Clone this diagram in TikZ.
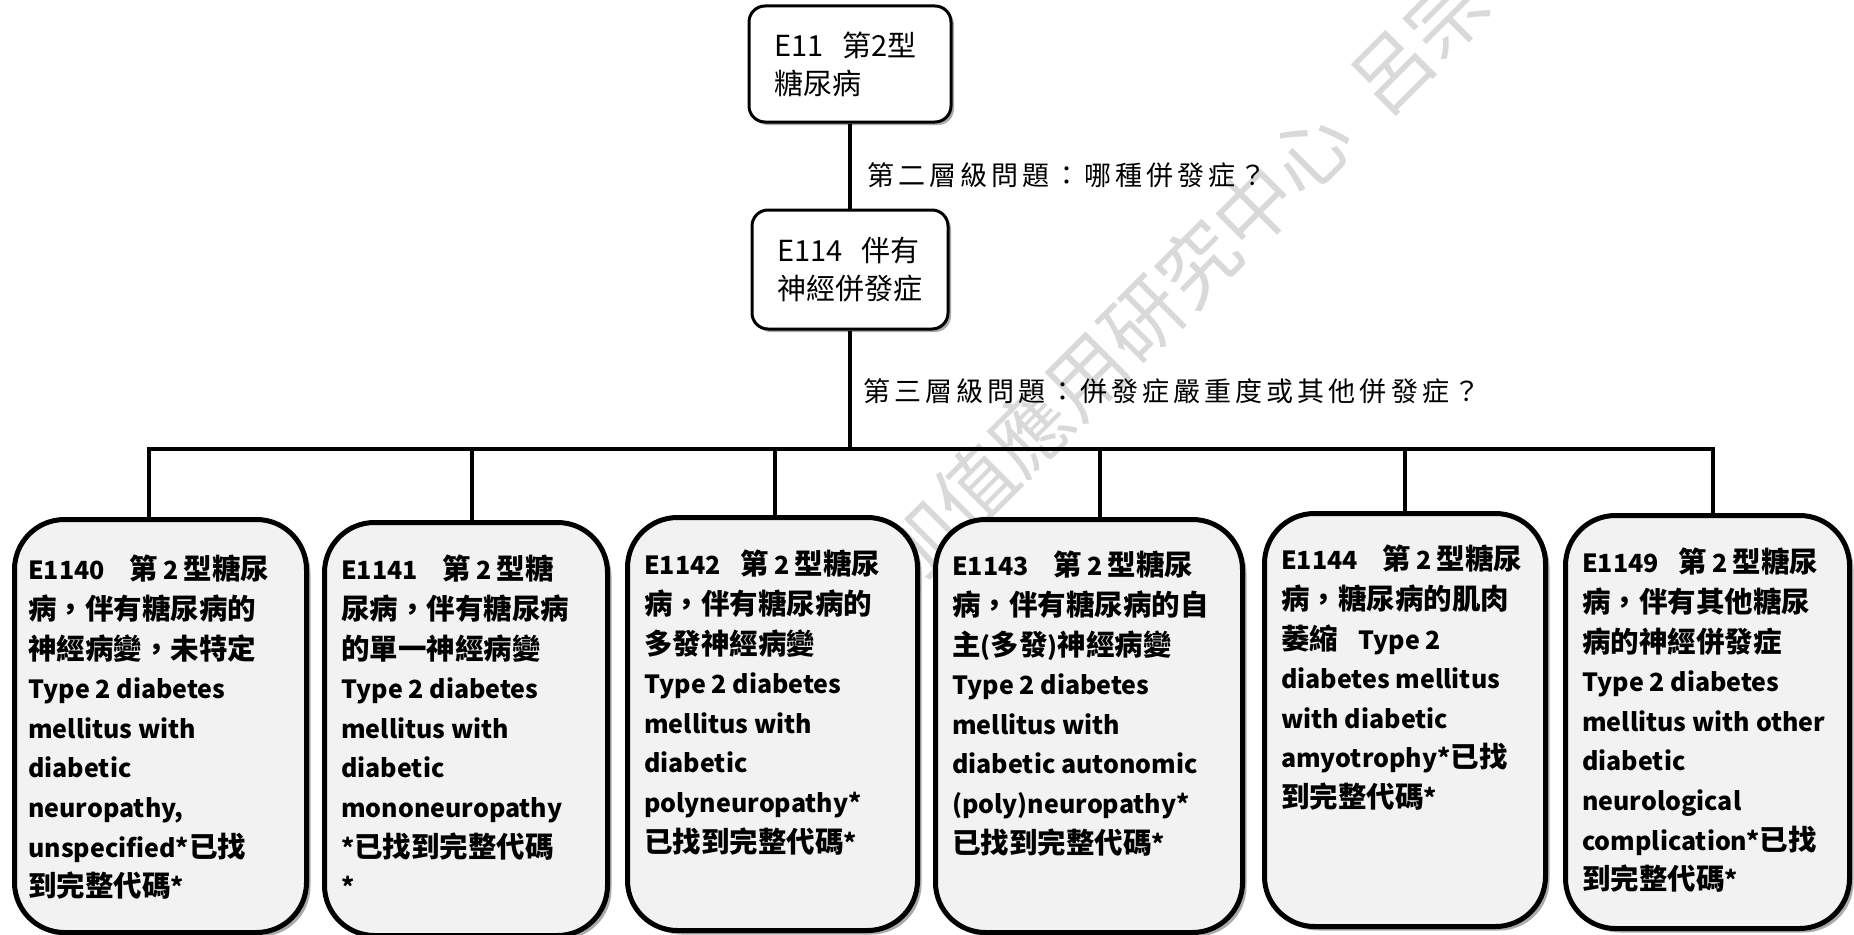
\documentclass[tikz,border=0pt]{standalone}
\usepackage{fontspec}
\setmainfont{Noto Sans CJK TC}
\usetikzlibrary{shadows}
\newcommand\en[1]{{\fontsize{25}{39.6}\selectfont #1}}
\newcommand\hd[4]{\en{#1}\hspace{#2}第\hspace{5pt}\en{2}\hspace{5pt}#3#4}
\tikzset{
  topbox/.style={draw=black, line width=3pt, rounded corners=16pt, fill=white, align=left,
    inner xsep=25pt, inner ysep=0pt, font=\fontsize{29}{38}\selectfont,
    drop shadow={shadow xshift=3pt, shadow yshift=-3pt, opacity=0.6, fill=black!55}},
  leafbox/.style={draw=black, line width=5pt, rounded corners=50pt, fill=black!5, anchor=north west,
    minimum height=413pt, inner sep=0pt,
    drop shadow={shadow xshift=4pt, shadow yshift=-4pt, opacity=0.6, fill=black!55}},
  leaftext/.style={anchor=north west, align=left, inner sep=0pt, font=\fontsize{28.5}{39.6}\selectfont\bfseries},
  conn/.style={line width=4.5pt},
  dropline/.style={line width=3.8pt},
  qlabel/.style={anchor=west, inner sep=0pt, font=\fontsize{27}{30}\selectfont\addfontfeature{LetterSpace=15}},
  wmark/.style={text=black!15, font=\fontsize{79}{80}\selectfont, rotate=45, anchor=base west, inner sep=0pt}
}
\begin{document}
\begin{tikzpicture}[x=1pt,y=-1pt]
\useasboundingbox (0,0) rectangle (1854,934);
\fill[white] (0,0) rectangle (1854,934);

% watermark
\node[wmark] (wm) at (912,592) {加值應用研究中心\hspace{0.45em}呂宗學};

% top boxes
\node[topbox, text width=152pt, minimum height=116pt] (e11) at (850,64) {E11\ \ 第2型\\糖尿病};
\node[topbox, text width=146pt, minimum height=119pt] (e114) at (850,269.5) {E114\ \ 伴有\\神經併發症};

% labels
\node[qlabel] (q2) at (867,175) {第二層級問題：哪種併發症？};
\node[qlabel] (q3) at (863,391) {第三層級問題：併發症嚴重度或其他併發症？};

% leaf boxes
\node[leafbox, minimum width=292pt] (b1) at (12,517) {};
\node[leafbox, minimum width=283pt] (b2) at (322,520) {};
\node[leafbox, minimum width=290pt] (b3) at (625,515) {};
\node[leafbox, minimum width=307pt] (b4) at (933,517) {};
\node[leafbox, minimum width=281pt] (b5) at (1262,511) {};
\node[leafbox, minimum width=284pt] (b6) at (1563,513) {};

\node[leaftext] (t1) at ([xshift=16pt,yshift=-38pt]b1.north west) {\hd{E1140}{25pt}{型糖}{尿}\\病，伴有糖尿病的\\神經病變，未特定\\\en{Type 2 diabetes}\\\en{mellitus with}\\\en{diabetic}\\\en{neuropathy,}\\\en{unspecified*}已找\\到完整代碼\en{*}};
\node[leaftext] (t2) at ([xshift=19pt,yshift=-35pt]b2.north west) {\hd{E1141}{25pt}{型}{糖}\\尿病，伴有糖尿病\\的單一神經病變\\\en{Type 2 diabetes}\\\en{mellitus with}\\\en{diabetic}\\\en{mononeuropathy}\\\en{*}已找到完整代碼\\\en{*}};
\node[leaftext] (t3) at ([xshift=19pt,yshift=-35pt]b3.north west) {\hd{E1142}{20pt}{型糖}{尿}\\病，伴有糖尿病的\\多發神經病變\\\en{Type 2 diabetes}\\\en{mellitus with}\\\en{diabetic}\\\en{polyneuropathy*}\\已找到完整代碼\en{*}};
\node[leaftext] (t4) at ([xshift=19pt,yshift=-34pt]b4.north west) {\hd{E1143}{25pt}{型糖}{尿}\\病，伴有糖尿病的自\\主\en{(}多發\en{)}神經病變\\\en{Type 2 diabetes}\\\en{mellitus with}\\\en{diabetic autonomic}\\\en{(poly)neuropathy*}\\已找到完整代碼\en{*}};
\node[leaftext] (t5) at ([xshift=19pt,yshift=-34pt]b5.north west) {\hd{E1144}{25pt}{型糖}{尿}\\病，糖尿病的肌肉\\萎縮\hspace{20pt}\en{Type 2}\\\en{diabetes mellitus}\\\en{with diabetic}\\\en{amyotrophy*}已找\\到完整代碼\en{*}};
\node[leaftext] (t6) at ([xshift=19pt,yshift=-35pt]b6.north west) {\hd{E1149}{20pt}{型糖}{尿}\\病，伴有其他糖尿\\病的神經併發症\\\en{Type 2 diabetes}\\\en{mellitus with other}\\\en{diabetic}\\\en{neurological}\\\en{complication*}已找\\到完整代碼\en{*}};

% connectors
\coordinate (hub) at (850,449);
\coordinate (barL) at (147,449);
\coordinate (barR) at (1715,449);
\draw[conn] (e11.south) -- (e114.north);
\draw[conn] (e114.south) -- (hub);
\draw[conn] (barL) -- (barR);
\coordinate (d1) at (149,449);
\coordinate (d2) at (472,449);
\coordinate (d3) at (775,449);
\coordinate (d4) at (1100,449);
\coordinate (d5) at (1405,449);
\coordinate (d6) at (1713,449);
\draw[dropline] (d1) -- (d1 |- b1.north);
\draw[dropline] (d2) -- (d2 |- b2.north);
\draw[dropline] (d3) -- (d3 |- b3.north);
\draw[dropline] (d4) -- (d4 |- b4.north);
\draw[dropline] (d5) -- (d5 |- b5.north);
\draw[dropline] (d6) -- (d6 |- b6.north);
\end{tikzpicture}
\end{document}
